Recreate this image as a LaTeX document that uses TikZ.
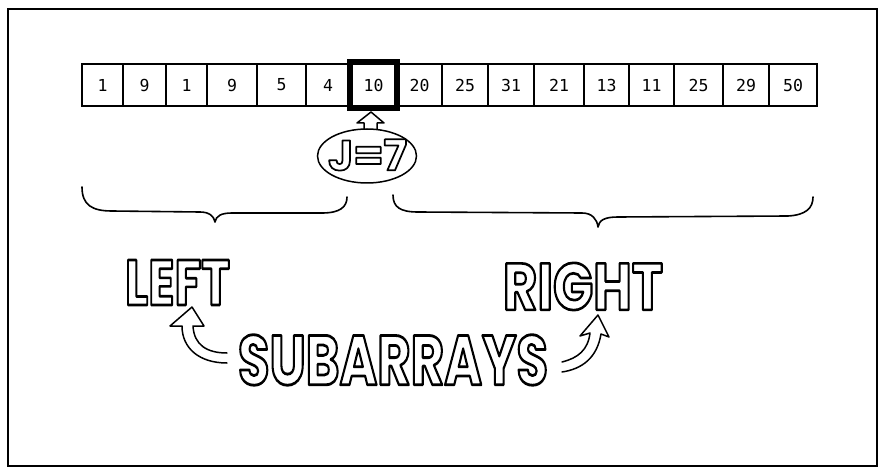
\documentclass[tikz,border=0pt]{standalone}
\usepackage{fontspec}
\usepackage{graphicx}
\usetikzlibrary{shapes.geometric}
\newfontfamily\bubble{Poppins}
\newfontfamily\digits{DejaVu Sans Mono}
\newcommand\outl[1]{\special{pdf:literal direct 1 Tr 2 w 1 j}#1\special{pdf:literal direct 0 Tr}}
\begin{document}
\begin{tikzpicture}[x=1pt,y=-1pt,
  cell/.style={draw, line width=1.2pt, inner sep=0, minimum height=42pt, font=\digits\fontsize{16.5}{16.5}\selectfont},
  pivot/.style={cell, line width=6pt, minimum height=46pt},
  brace/.style={line width=1.6pt, line cap=round, line join=round},
  hollow/.style={line width=1.5pt, line join=round, line cap=round},
  word/.style={inner sep=0, font=\bubble\bfseries\fontsize{50}{50}\selectfont}]
\useasboundingbox (0,0) rectangle (883,470);
\draw[line width=1.5pt] (8,9) rectangle (877,466);
% array cells
\foreach \l/\r/\v [count=\i] in {82/123/1,123/166/9,166/207/1,207/257/9,257/306/5,306/350/4,350/397/10,397/442/20,442/488/25,488/534/31,534/584/21,584/629/13,629/674/11,674/723/25,723/769/29,769/817/50}
  {\ifnum\i=7\relax\else
     \node[cell, minimum width={(\r-\l)*1pt}] (c\i) at ({(\l+\r)/2},85) {\v};
   \fi}
\node[pivot, minimum width=47pt] (c7) at (373.5,85.5) {10};
% hollow arrow from J=7 up to pivot
\draw[hollow] (364,134) -- (364,123) -- (357,123) -- (371,112) -- (384,123) -- (377,123) -- (377,134);
\node[draw, ellipse, line width=1.5pt, fill=white, minimum width=99pt, minimum height=54pt, inner sep=0] (jell) at (367,156) {};
\node[word] (jtxt) at (367.5,155) {\resizebox{79pt}{31pt}{\outl{J=7}}};
% braces
\draw[brace] (82,187) .. controls (82,205) and (92,211) .. (112,211) -- (200,212) .. controls (209,212) and (214,216) .. (215,222) .. controls (216,216) and (221,213) .. (232,213) -- (322,213) .. controls (340,213) and (347,207) .. (347,197);
\draw[brace] (393,195) .. controls (393,207) and (400,212) .. (418,212) -- (582,213) .. controls (592,213) and (597,219) .. (598,227) .. controls (599,220) and (605,217) .. (618,217) -- (788,216) .. controls (806,215) and (813,208) .. (813,197);
% words
\node[word] (left) at (177.5,282.5) {\resizebox{105pt}{45pt}{\outl{LEFT}}};
\node[word] (right) at (583,286.5) {\resizebox{160pt}{47pt}{\outl{RIGHT}}};
\node[word] (sub) at (393,360) {\resizebox{310pt}{50pt}{\outl{SUBARRAYS}}};
% curved hollow arrows
\draw[hollow] (227,353) .. controls (207,353) and (194,345) .. (193,326) -- (204,326) -- (192,307) -- (170,326) -- (182,326) .. controls (182,348) and (199,363) .. (227,363);
\draw[hollow] (562,362) .. controls (578,358) and (588,350) .. (590,333) -- (580,336) -- (598,315) -- (609,337) -- (601,334) .. controls (597,358) and (582,369) .. (562,372);
\end{tikzpicture}
\end{document}
